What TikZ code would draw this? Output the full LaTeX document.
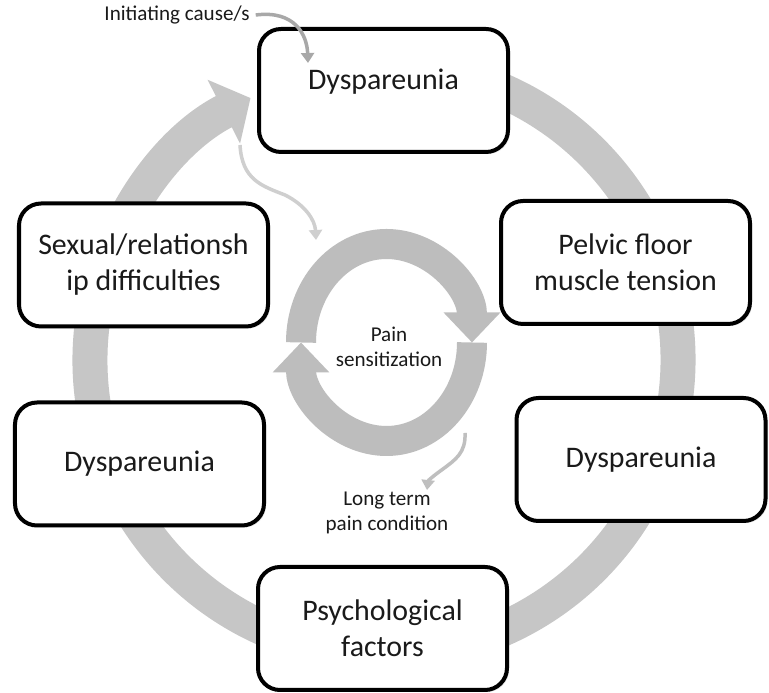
\documentclass[tikz,border=0pt]{standalone}
\usepackage{fontspec}
\setmainfont{Carlito}
\usetikzlibrary{arrows.meta,shadows}

\definecolor{ringgray}{RGB}{198,198,198}
\definecolor{innergray}{RGB}{189,189,189}
\definecolor{textdark}{RGB}{26,26,26}

\begin{document}
\begin{tikzpicture}[
    box/.style={draw=black,line width=0.08cm,rounded corners=0.44cm,fill=white,
        minimum width=4.98cm,minimum height=2.46cm,align=center,text=textdark,
        font=\fontsize{17}{20.5}\selectfont,
        drop shadow={opacity=0.22,shadow xshift=0.04cm,shadow yshift=-0.04cm}},
    small/.style={align=center,text=textdark,font=\fontsize{12}{14.2}\selectfont},
    curvy/.style={line width=0.07cm,-{Triangle[width=0.26cm,length=0.2cm]}}
]
    \useasboundingbox[fill=white] (0,0) rectangle (15.38,13.86);

    \draw[ringgray,line width=0.7cm,-{Triangle[width=1.4cm,length=0.6cm]}]
        (7.68,6.66) ++(80:5.88) arc[start angle=80,end angle=-243,radius=5.88];

    \draw[innergray,line width=0.6cm,-{Triangle[width=1.1cm,length=0.6cm]}]
        (6.02,7.01) arc[start angle=180,end angle=0,x radius=1.71,y radius=1.97];
    \draw[innergray,line width=0.6cm,-{Triangle[width=1.1cm,length=0.6cm]}]
        (9.44,7.01) arc[start angle=0,end angle=-180,x radius=1.71,y radius=1.97];
    \node[small] (pain) at (7.78,6.92) {Pain\\sensitization};

    \node[box,text depth=0.45cm] (top) at (7.67,12.05) {Dyspareunia};
    \node[box] (pelvic) at (12.51,8.61) {Pelvic floor\\muscle tension};
    \node[box] (rdysp) at (12.82,4.67) {Dyspareunia};
    \node[box] (psych) at (7.65,1.29) {Psychological\\factors};
    \node[box] (ldysp) at (2.79,4.58) {Dyspareunia};
    \node[box] (sexual) at (2.87,8.56) {Sexual/relationsh\\ip difficulties};

    \node[small] (cause) at (3.54,13.56) {Initiating cause/s};
    \node[small] (longterm) at (7.74,3.60) {Long term\\pain condition};

    \coordinate (causein) at (6.16,12.60);
    \coordinate (topout) at (4.80,10.96);
    \coordinate (painin) at (6.32,9.06);
    \coordinate (painout) at (9.30,5.20);
    \coordinate (longin) at (8.54,4.06);

    \draw[curvy,gray!68] (cause.east) .. controls (5.90,13.66) and (6.14,13.16) .. (causein);
    \draw[curvy,gray!38] (topout) .. controls (4.84,10.26) and (5.24,10.14) .. (5.70,9.96)
        .. controls (6.10,9.76) and (6.30,9.46) .. (painin);
    \draw[curvy,gray!50] (painout) .. controls (9.32,4.80) and (9.10,4.66) .. (8.86,4.48)
        .. controls (8.66,4.34) and (8.56,4.24) .. (longin);
\end{tikzpicture}
\end{document}
